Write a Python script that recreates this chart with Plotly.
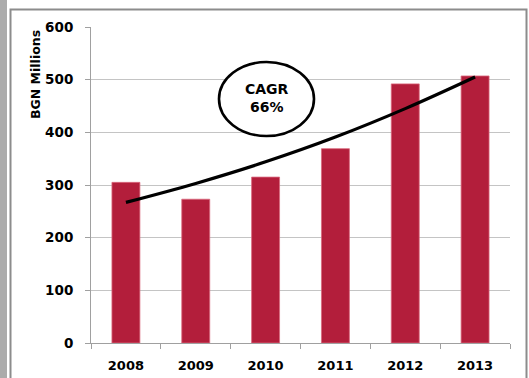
import plotly.graph_objects as go

# Revenue by year, BGN millions
years = ["2008", "2009", "2010", "2011", "2012", "2013"]
revenue = [305, 273, 315, 369, 492, 507]
# Exponential growth trend drawn over the bars
trend = [267, 303, 344, 391, 445, 505]
y_ticks = [0, 100, 200, 300, 400, 500, 600]

W, H = 529, 378
L, R, T, B = 91, 19, 27, 35
pw, ph = W - L - R, H - T - B


def px(x):
    return (x - L) / pw


def py(y):
    return (H - B - y) / ph


font_main = "DejaVu Sans"

fig = go.Figure()
fig.add_trace(go.Bar(
    x=years, y=revenue,
    marker=dict(color="#B31E3B", line=dict(color="#D9687C", width=0.8)),
    showlegend=False,
))
fig.add_trace(go.Scatter(
    x=years, y=trend, mode="lines",
    line=dict(color="black", width=3.2, shape="spline"),
    showlegend=False,
))

shapes = [
    # grey strip on the left edge
    dict(type="rect", xref="paper", yref="paper",
         x0=px(0), x1=px(7), y0=py(H + 5), y1=py(-5),
         fillcolor="#ABABAB", line=dict(width=0), layer="below"),
    # chart frame
    dict(type="rect", xref="paper", yref="paper",
         x0=px(10.5), x1=px(526.5), y0=py(H + 5), y1=py(9.5),
         fillcolor="rgba(0,0,0,0)", line=dict(color="#8C8C8C", width=2), layer="below"),
    # CAGR callout ellipse
    dict(type="circle", xref="paper", yref="paper",
         x0=px(219), x1=px(314), y0=py(136), y1=py(62),
         fillcolor="white", line=dict(color="black", width=2.6), layer="above"),
]

annotations = [
    dict(text="<b>CAGR<br>66%</b>", xref="paper", yref="paper",
         x=px(266.5), y=py(98), xanchor="center", yanchor="middle",
         showarrow=False,
         font=dict(family=font_main, size=14, color="black"), align="center"),
    dict(text="<b>BGN Millions</b>", xref="paper", yref="paper",
         x=px(35), y=py(75), xanchor="center", yanchor="middle",
         showarrow=False, textangle=-90,
         font=dict(family=font_main, size=12.5, color="black")),
]

fig.update_layout(
    width=W, height=H,
    margin=dict(l=L, r=R, t=T, b=B, pad=0, autoexpand=False),
    paper_bgcolor="white", plot_bgcolor="white",
    bargap=0.6,
    shapes=shapes, annotations=annotations,
    font=dict(family=font_main, color="black"),
)
fig.update_xaxes(
    type="category", range=[-0.5, 5.5], automargin=False,
    showline=True, linecolor="#A0A0A0", linewidth=1,
    ticks="outside", tickson="boundaries", ticklen=5, tickcolor="#A0A0A0",
    showgrid=False,
    tickfont=dict(family=font_main, size=13, weight="bold"),
    ticklabelstandoff=10,
)
fig.update_yaxes(
    range=[0, 600], tickvals=y_ticks, automargin=False,
    showline=True, linecolor="#A0A0A0", linewidth=1,
    ticks="outside", ticklen=5, tickcolor="#A0A0A0",
    showgrid=True, gridcolor="#C4C4C4", gridwidth=1,
    zeroline=False,
    tickfont=dict(family=font_main, size=13.5, weight="bold"),
    ticklabelstandoff=9,
)

fig.write_html("out.html")
